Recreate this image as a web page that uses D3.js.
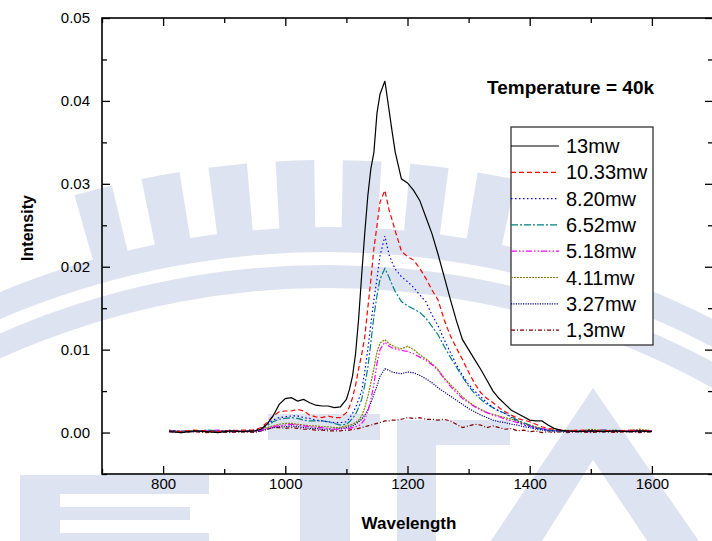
<!DOCTYPE html>
<html><head><meta charset="utf-8">
<script src="https://cdn.jsdelivr.net/npm/d3@7"></script>
<style>body{margin:0;background:#fff}svg{display:block;font-family:Arial,"Liberation Sans",sans-serif}</style>
</head><body><svg id="c" width="712" height="541"></svg>
<script>
const wavelength = [810,830,850,870,890,910,930,950,960,970,980,990,1000,1010,1020,1030,1040,1050,1060,1070,1080,1090,1100,1105,1110,1115,1120,1125,1130,1135,1140,1145,1150,1155,1163,1170,1175,1180,1190,1200,1210,1220,1230,1240,1250,1260,1270,1280,1290,1300,1310,1320,1330,1340,1350,1360,1370,1380,1390,1400,1410,1420,1430,1440,1450,1460,1480,1500,1520,1540,1560,1580,1600];
const p13 = [0.0001,0.0000,0.0002,0.0001,0.0000,0.0002,0.0001,0.0002,0.0004,0.0010,0.0020,0.0034,0.0041,0.0042,0.0038,0.0040,0.0036,0.0033,0.0032,0.0032,0.0030,0.0031,0.0040,0.0052,0.0068,0.0095,0.0137,0.0190,0.0240,0.0285,0.0318,0.0338,0.0385,0.0408,0.0424,0.0388,0.0362,0.0338,0.0306,0.0301,0.0292,0.0280,0.0260,0.0240,0.0215,0.0188,0.0161,0.0135,0.0112,0.0100,0.0088,0.0076,0.0063,0.0050,0.0041,0.0034,0.0027,0.0023,0.0019,0.0015,0.0014,0.0014,0.0009,0.0005,0.0003,0.0002,0.0001,0.0002,0.0001,0.0002,0.0001,0.0002,0.0001];
const p1033 = [0.0002,0.0001,0.0003,0.0002,0.0001,0.0002,0.0003,0.0003,0.0006,0.0012,0.0020,0.0025,0.0026,0.0026,0.0028,0.0026,0.0021,0.0019,0.0018,0.0020,0.0018,0.0018,0.0024,0.0031,0.0042,0.0057,0.0077,0.0094,0.0115,0.0150,0.0184,0.0222,0.0249,0.0278,0.0292,0.0268,0.0256,0.0243,0.0219,0.0212,0.0208,0.0198,0.0186,0.0172,0.0160,0.0136,0.0117,0.0102,0.0088,0.0073,0.0059,0.0048,0.0041,0.0036,0.0030,0.0025,0.0021,0.0017,0.0015,0.0013,0.0010,0.0007,0.0005,0.0004,0.0003,0.0002,0.0003,0.0002,0.0003,0.0001,0.0003,0.0002,0.0003];
const p820 = [0.0003,0.0001,0.0002,0.0002,0.0001,0.0003,0.0002,0.0003,0.0005,0.0010,0.0015,0.0018,0.0019,0.0020,0.0020,0.0018,0.0017,0.0015,0.0014,0.0013,0.0012,0.0012,0.0013,0.0017,0.0023,0.0030,0.0040,0.0050,0.0073,0.0100,0.0131,0.0160,0.0185,0.0213,0.0237,0.0214,0.0205,0.0197,0.0188,0.0182,0.0175,0.0166,0.0158,0.0142,0.0129,0.0112,0.0097,0.0082,0.0069,0.0058,0.0050,0.0043,0.0036,0.0030,0.0026,0.0023,0.0018,0.0013,0.0009,0.0007,0.0005,0.0004,0.0003,0.0002,0.0003,0.0001,0.0002,0.0003,0.0001,0.0002,0.0002,0.0001,0.0002];
const p652 = [0.0002,0.0002,0.0001,0.0003,0.0002,0.0001,0.0002,0.0002,0.0004,0.0008,0.0013,0.0016,0.0017,0.0018,0.0017,0.0015,0.0014,0.0014,0.0014,0.0013,0.0011,0.0009,0.0010,0.0013,0.0017,0.0022,0.0030,0.0040,0.0057,0.0078,0.0108,0.0140,0.0165,0.0185,0.0198,0.0187,0.0178,0.0170,0.0158,0.0153,0.0149,0.0145,0.0138,0.0128,0.0118,0.0104,0.0091,0.0079,0.0067,0.0056,0.0047,0.0040,0.0034,0.0030,0.0026,0.0023,0.0019,0.0015,0.0012,0.0009,0.0006,0.0004,0.0003,0.0002,0.0002,0.0001,0.0002,0.0001,0.0003,0.0002,0.0001,0.0002,0.0002];
const p518 = [0.0001,0.0002,0.0001,0.0002,0.0003,0.0001,0.0002,0.0001,0.0003,0.0005,0.0007,0.0008,0.0009,0.0010,0.0009,0.0008,0.0007,0.0006,0.0006,0.0005,0.0004,0.0004,0.0005,0.0005,0.0006,0.0007,0.0008,0.0011,0.0016,0.0025,0.0040,0.0058,0.0083,0.0100,0.0109,0.0104,0.0102,0.0101,0.0099,0.0098,0.0095,0.0091,0.0087,0.0082,0.0075,0.0065,0.0056,0.0048,0.0041,0.0036,0.0031,0.0027,0.0024,0.0021,0.0019,0.0016,0.0014,0.0012,0.0010,0.0008,0.0006,0.0005,0.0003,0.0002,0.0003,0.0001,0.0002,0.0001,0.0003,0.0002,0.0002,0.0003,0.0002];
const p411 = [0.0002,0.0001,0.0002,0.0001,0.0002,0.0002,0.0001,0.0002,0.0004,0.0006,0.0008,0.0010,0.0011,0.0011,0.0010,0.0009,0.0008,0.0008,0.0007,0.0007,0.0006,0.0006,0.0008,0.0009,0.0010,0.0012,0.0015,0.0020,0.0030,0.0043,0.0060,0.0077,0.0097,0.0108,0.0112,0.0107,0.0105,0.0103,0.0101,0.0104,0.0100,0.0094,0.0089,0.0083,0.0076,0.0066,0.0058,0.0051,0.0043,0.0037,0.0032,0.0028,0.0024,0.0022,0.0020,0.0018,0.0016,0.0014,0.0011,0.0009,0.0007,0.0005,0.0004,0.0003,0.0002,0.0003,0.0002,0.0004,0.0002,0.0003,0.0002,0.0004,0.0002];
const p327 = [0.0002,0.0001,0.0001,0.0002,0.0001,0.0002,0.0001,0.0001,0.0002,0.0004,0.0006,0.0007,0.0007,0.0008,0.0007,0.0006,0.0005,0.0005,0.0004,0.0004,0.0004,0.0005,0.0006,0.0007,0.0008,0.0010,0.0013,0.0016,0.0021,0.0027,0.0036,0.0046,0.0056,0.0068,0.0077,0.0075,0.0073,0.0072,0.0071,0.0073,0.0072,0.0069,0.0065,0.0060,0.0054,0.0049,0.0044,0.0039,0.0034,0.0029,0.0025,0.0021,0.0018,0.0015,0.0013,0.0012,0.0010,0.0009,0.0007,0.0006,0.0004,0.0003,0.0002,0.0002,0.0001,0.0002,0.0001,0.0002,0.0002,0.0001,0.0002,0.0001,0.0002];
const p13b = [0.0001,0.0000,0.0001,0.0000,0.0001,0.0000,0.0001,0.0000,0.0002,0.0004,0.0006,0.0006,0.0005,0.0006,0.0005,0.0004,0.0004,0.0003,0.0003,0.0002,0.0002,0.0002,0.0003,0.0003,0.0004,0.0004,0.0005,0.0006,0.0007,0.0008,0.0009,0.0010,0.0011,0.0012,0.0014,0.0014,0.0015,0.0015,0.0016,0.0018,0.0017,0.0018,0.0016,0.0016,0.0015,0.0016,0.0014,0.0010,0.0006,0.0008,0.0010,0.0009,0.0006,0.0008,0.0006,0.0004,0.0005,0.0002,0.0003,0.0001,0.0002,0.0000,0.0001,0.0000,0.0001,0.0000,0.0001,0.0000,0.0001,0.0000,0.0001,0.0000,0.0001];
const seriesNames = ["13mw","10.33mw","8.20mw","6.52mw","5.18mw","4.11mw","3.27mw","1,3mw"];
const seriesValues = [p13,p1033,p820,p652,p518,p411,p327,p13b];
const seriesColors = ["#000000","#ff0000","#0000ff","#008080","#ff00ff","#808000","#000080","#800000"];
const seriesDash = ["none","5,3","1.5,2.5","7,2,2,2","6,2,1.5,2,1.5,2","2,1","1.2,1.2","4,2,1,2"];
const xTickValues = [800,1000,1200,1400,1600];
const xMinorValues = [700,900,1100,1300,1500,1700];
const yTickValues = [0,0.01,0.02,0.03,0.04,0.05];
const yMinorValues = [-0.005,0.005,0.015,0.025,0.035,0.045];
const titleText = "Temperature = 40k";

const svg = d3.select("#c");
const W = 712, H = 541;
svg.append("rect").attr("width",W).attr("height",H).attr("fill","#fff");

// watermark (approximate background logo)
const wm = svg.append("g").attr("fill","#dde3f0");
const C = [327, 1081];
const arcGen = d3.arc();
const wmArc = (r0,r1,a0,a1)=>wm.append("path").attr("transform",`translate(${C})`)
  .attr("d",arcGen({innerRadius:r0,outerRadius:r1,startAngle:a0,endAngle:a1}));
wmArc(793,816,-0.75,0.75);
wmArc(829,854,-0.75,0.75);
d3.range(-4,5).forEach(k=>{
  const a = Math.asin((361 + 65*k - 327)/890);
  wmArc(850,921,a-0.021,a+0.021);
});
// bottom letters
wm.append("rect").attr("x",20).attr("y",475).attr("width",189).attr("height",19);
wm.append("rect").attr("x",20).attr("y",475).attr("width",40).attr("height",66);
wm.append("rect").attr("x",20).attr("y",507).attr("width",170).attr("height",13);
wm.append("rect").attr("x",20).attr("y",533).attr("width",189).attr("height",8);
wm.append("rect").attr("x",268).attr("y",414).attr("width",112).attr("height",26);
wm.append("rect").attr("x",300).attr("y",414).attr("width",50).attr("height",127);
wm.append("rect").attr("x",397).attr("y",420).attr("width",113).attr("height",25);
wm.append("rect").attr("x",397).attr("y",420).attr("width",39).attr("height",121);
wm.append("path").attr("d","M593,388 L712,560 L660,560 L593,460 L530,560 L478,560 Z");

const x = d3.scaleLinear().domain([700,1700]).range([102,713]);
const y = d3.scaleLinear().domain([-0.005,0.05]).range([474,18]);

// series
const line = d3.line().x((d,i)=>x(wavelength[i])).y(d=>y(d));
const order = [7,6,5,4,3,2,1,0];
order.forEach(k=>{
  svg.append("path").attr("d",line(seriesValues[k])).attr("fill","none")
    .attr("stroke",seriesColors[k]).attr("stroke-width",1.2)
    .attr("stroke-dasharray",seriesDash[k]==="none"?null:seriesDash[k]);
});

// axes
const x0=x.range()[0], x1=x.range()[1], y0=y.range()[0], y1=y.range()[1];
const gBottom = svg.append("g").attr("transform",`translate(0,${y0})`)
  .call(d3.axisBottom(x).tickValues(xTickValues).tickSize(-8).tickPadding(4).tickFormat(d3.format("d")));
const gBottomMinor = svg.append("g").attr("transform",`translate(0,${y0})`)
  .call(d3.axisBottom(x).tickValues(xMinorValues).tickSize(-5).tickFormat(""));
const gTop = svg.append("g").attr("transform",`translate(0,${y1})`)
  .call(d3.axisTop(x).tickValues(xTickValues).tickSize(-8).tickFormat(""));
const gTopMinor = svg.append("g").attr("transform",`translate(0,${y1})`)
  .call(d3.axisTop(x).tickValues(xMinorValues).tickSize(-5).tickFormat(""));
const gLeft = svg.append("g").attr("transform",`translate(${x0},0)`)
  .call(d3.axisLeft(y).tickValues(yTickValues).tickSize(-8).tickPadding(12).tickFormat(d3.format(".2f")));
const gLeftMinor = svg.append("g").attr("transform",`translate(${x0},0)`)
  .call(d3.axisLeft(y).tickValues(yMinorValues).tickSize(-5).tickFormat(""));
const gRight = svg.append("g").attr("transform",`translate(${x1},0)`)
  .call(d3.axisRight(y).tickValues(yTickValues).tickSize(-8).tickFormat(""));
const gRightMinor = svg.append("g").attr("transform",`translate(${x1},0)`)
  .call(d3.axisRight(y).tickValues(yMinorValues).tickSize(-5).tickFormat(""));
[gBottom,gBottomMinor,gTop,gTopMinor,gLeft,gLeftMinor,gRight,gRightMinor].forEach(g=>{
  g.select(".domain").remove();
  g.selectAll("line").attr("stroke","#000").attr("stroke-width",1.3);
  g.selectAll("text").attr("font-size",15).attr("font-family","Arial, 'Liberation Sans', sans-serif").attr("fill","#000");
});
svg.append("rect").attr("x",x0).attr("y",y1).attr("width",x1-x0).attr("height",y0-y1)
  .attr("fill","none").attr("stroke","#000").attr("stroke-width",1.6);

// axis titles
svg.append("text").attr("x",409).attr("y",529).attr("text-anchor","middle")
  .attr("font-size",17).attr("font-weight","bold").text("Wavelength");
svg.append("text").attr("transform","translate(33,228) rotate(-90)").attr("text-anchor","middle")
  .attr("font-size",16).attr("font-weight","bold").text("Intensity");

// title
svg.append("text").attr("x",487).attr("y",94).attr("font-size",19).attr("font-weight","bold").text(titleText);

// legend
const lg = svg.append("g");
lg.append("rect").attr("x",511).attr("y",127).attr("width",142).attr("height",218)
  .attr("fill","#fff").attr("stroke","#333").attr("stroke-width",1.3);
seriesNames.forEach((n,k)=>{
  const yy = 146 + k*26.3;
  lg.append("line").attr("x1",511).attr("x2",559).attr("y1",yy).attr("y2",yy)
    .attr("stroke",seriesColors[k]).attr("stroke-width",1.2)
    .attr("stroke-dasharray",seriesDash[k]==="none"?null:seriesDash[k]);
  lg.append("text").attr("x",566).attr("y",yy+7).attr("font-size",20).text(n);
});
</script></body></html>
